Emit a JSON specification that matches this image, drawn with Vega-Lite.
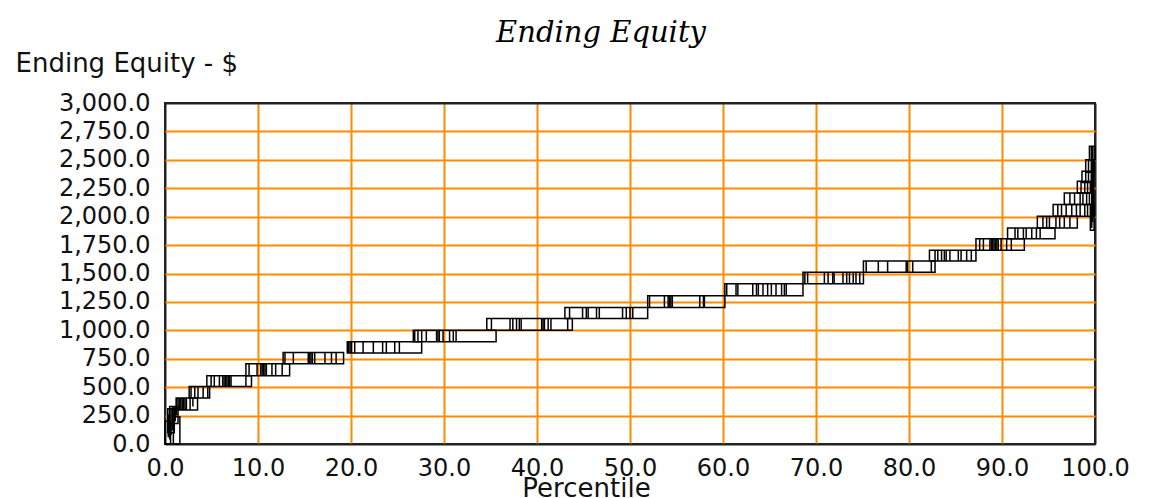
{
  "$schema": "https://vega.github.io/schema/vega-lite/v6.json",
  "width": 930,
  "height": 341,
  "autosize": {"type": "none"},
  "padding": {"left": 165, "top": 103, "right": 62, "bottom": 54},
  "background": "white",
  "title": {
    "text": "Ending Equity",
    "font": "DejaVu Serif",
    "fontStyle": "italic",
    "fontWeight": "normal",
    "fontSize": 29,
    "color": "#000000",
    "anchor": "middle",
    "frame": "group",
    "dx": -29,
    "offset": 2
  },
  "config": {
    "view": {"stroke": "#222222", "strokeWidth": 2},
    "axis": {
      "grid": true,
      "gridColor": {"condition": {"test": "datum.value === 0 || datum.value === 100 || datum.value === 3000", "value": "#222222"}, "value": "#ff8c00"},
      "gridOpacity": 1,
      "gridWidth": 2,
      "ticks": false,
      "domain": false,
      "labelFont": "DejaVu Sans",
      "labelFontSize": 24,
      "labelColor": "#111111",
      "titleFont": "DejaVu Sans",
      "titleFontSize": 26,
      "titleFontWeight": "normal",
      "titleColor": "#111111",
      "labelOverlap": false,
      "labelFlush": false
    }
  },
  "datasets": {
    "boxes": [
      {"x": 0.0, "x2": 0.6, "y": 0, "y2": 200},
      {"x": 0.3, "x2": 1.0, "y": 100, "y2": 310},
      {"x": 0.9, "x2": 1.6, "y": 0, "y2": 240},
      {"x": 0.5, "x2": 1.4, "y": 180, "y2": 330},
      {"x": 1.2, "x2": 3.5, "y": 300, "y2": 405},
      {"x": 2.6, "x2": 4.8, "y": 405, "y2": 505},
      {"x": 4.5, "x2": 9.3, "y": 505, "y2": 600},
      {"x": 8.7, "x2": 13.4, "y": 600, "y2": 705},
      {"x": 12.7, "x2": 19.2, "y": 705, "y2": 805},
      {"x": 19.6, "x2": 27.6, "y": 800, "y2": 900},
      {"x": 26.7, "x2": 35.6, "y": 900, "y2": 1000},
      {"x": 34.6, "x2": 43.8, "y": 1000, "y2": 1105},
      {"x": 43.0, "x2": 51.9, "y": 1105, "y2": 1200},
      {"x": 51.9, "x2": 60.2, "y": 1200, "y2": 1305},
      {"x": 60.2, "x2": 68.6, "y": 1305, "y2": 1410},
      {"x": 68.6, "x2": 75.1, "y": 1410, "y2": 1510},
      {"x": 75.1, "x2": 82.8, "y": 1510, "y2": 1610},
      {"x": 82.2, "x2": 87.2, "y": 1610, "y2": 1705},
      {"x": 87.2, "x2": 92.4, "y": 1705, "y2": 1805},
      {"x": 90.6, "x2": 95.7, "y": 1805, "y2": 1900},
      {"x": 93.8, "x2": 98.1, "y": 1900, "y2": 2003},
      {"x": 95.5, "x2": 99.8, "y": 2003, "y2": 2106},
      {"x": 96.7, "x2": 99.8, "y": 2106, "y2": 2209},
      {"x": 98.1, "x2": 99.8, "y": 2209, "y2": 2311},
      {"x": 98.6, "x2": 99.8, "y": 2300, "y2": 2400},
      {"x": 99.0, "x2": 99.9, "y": 2390, "y2": 2500},
      {"x": 99.4, "x2": 100, "y": 2500, "y2": 2620},
      {"x": 99.5, "x2": 99.9, "y": 1880, "y2": 2106}
    ],
    "ticks": [
      {"x": 0.35, "y": 60, "y2": 260}, {"x": 0.5, "y": 40, "y2": 300}, {"x": 0.65, "y": 80, "y2": 310},
      {"x": 0.8, "y": 120, "y2": 330}, {"x": 0.95, "y": 160, "y2": 330}, {"x": 1.1, "y": 200, "y2": 330},
      {"x": 1.25, "y": 250, "y2": 400}, {"x": 1.4, "y": 300, "y2": 405},
      {"x": 1.55, "y": 300, "y2": 405}, {"x": 1.7, "y": 300, "y2": 405}, {"x": 1.85, "y": 300, "y2": 405},
      {"x": 2.0, "y": 300, "y2": 405}, {"x": 2.15, "y": 300, "y2": 405}, {"x": 2.3, "y": 300, "y2": 405},
      {"x": 2.7, "y": 300, "y2": 405}, {"x": 3.0, "y": 330, "y2": 405},
      {"x": 2.8, "y": 405, "y2": 505}, {"x": 3.2, "y": 405, "y2": 505}, {"x": 3.55, "y": 405, "y2": 505},
      {"x": 4.1, "y": 405, "y2": 505}, {"x": 4.6, "y": 405, "y2": 505},
      {"x": 4.96, "y": 505, "y2": 600}, {"x": 5.3, "y": 505, "y2": 600}, {"x": 5.85, "y": 505, "y2": 600},
      {"x": 6.2, "y": 505, "y2": 600}, {"x": 6.35, "y": 505, "y2": 600}, {"x": 6.5, "y": 505, "y2": 600},
      {"x": 6.65, "y": 505, "y2": 600}, {"x": 6.8, "y": 505, "y2": 600}, {"x": 6.95, "y": 505, "y2": 600},
      {"x": 7.1, "y": 505, "y2": 600}, {"x": 8.7, "y": 505, "y2": 600},
      {"x": 9.04, "y": 600, "y2": 705}, {"x": 9.9, "y": 600, "y2": 705}, {"x": 10.3, "y": 600, "y2": 705},
      {"x": 10.45, "y": 600, "y2": 705}, {"x": 10.6, "y": 600, "y2": 705}, {"x": 10.75, "y": 600, "y2": 705},
      {"x": 10.9, "y": 600, "y2": 705}, {"x": 11.5, "y": 600, "y2": 705}, {"x": 11.9, "y": 600, "y2": 705},
      {"x": 12.6, "y": 600, "y2": 705},
      {"x": 12.9, "y": 705, "y2": 805}, {"x": 13.8, "y": 705, "y2": 805}, {"x": 15.4, "y": 705, "y2": 805},
      {"x": 15.55, "y": 705, "y2": 805}, {"x": 15.7, "y": 705, "y2": 805}, {"x": 15.85, "y": 705, "y2": 805},
      {"x": 16.1, "y": 705, "y2": 805}, {"x": 17.2, "y": 705, "y2": 805}, {"x": 17.9, "y": 705, "y2": 805},
      {"x": 18.4, "y": 705, "y2": 805},
      {"x": 19.75, "y": 800, "y2": 900}, {"x": 19.9, "y": 800, "y2": 900}, {"x": 20.05, "y": 800, "y2": 900},
      {"x": 20.4, "y": 800, "y2": 900}, {"x": 21.3, "y": 800, "y2": 900}, {"x": 22.4, "y": 800, "y2": 900},
      {"x": 23.4, "y": 800, "y2": 900}, {"x": 23.8, "y": 800, "y2": 900}, {"x": 24.7, "y": 800, "y2": 900},
      {"x": 25.2, "y": 800, "y2": 900},
      {"x": 26.85, "y": 900, "y2": 1000}, {"x": 27.2, "y": 900, "y2": 1000}, {"x": 27.6, "y": 900, "y2": 1000},
      {"x": 28.1, "y": 900, "y2": 1000}, {"x": 29.2, "y": 900, "y2": 1000}, {"x": 29.35, "y": 900, "y2": 1000},
      {"x": 29.5, "y": 900, "y2": 1000}, {"x": 29.9, "y": 900, "y2": 1000}, {"x": 30.6, "y": 900, "y2": 1000},
      {"x": 31.0, "y": 900, "y2": 1000}, {"x": 31.3, "y": 900, "y2": 1000},
      {"x": 35.1, "y": 1000, "y2": 1105}, {"x": 37.1, "y": 1000, "y2": 1105}, {"x": 37.4, "y": 1000, "y2": 1105},
      {"x": 37.8, "y": 1000, "y2": 1105}, {"x": 38.1, "y": 1000, "y2": 1105}, {"x": 38.3, "y": 1000, "y2": 1105},
      {"x": 40.5, "y": 1000, "y2": 1105}, {"x": 40.65, "y": 1000, "y2": 1105}, {"x": 40.8, "y": 1000, "y2": 1105},
      {"x": 41.2, "y": 1000, "y2": 1105}, {"x": 41.5, "y": 1000, "y2": 1105}, {"x": 43.3, "y": 1000, "y2": 1105},
      {"x": 43.5, "y": 1105, "y2": 1200}, {"x": 44.9, "y": 1105, "y2": 1200}, {"x": 45.3, "y": 1105, "y2": 1200},
      {"x": 45.5, "y": 1105, "y2": 1200}, {"x": 46.4, "y": 1105, "y2": 1200}, {"x": 46.7, "y": 1105, "y2": 1200},
      {"x": 49.2, "y": 1105, "y2": 1200}, {"x": 49.6, "y": 1105, "y2": 1200}, {"x": 50.0, "y": 1105, "y2": 1200},
      {"x": 50.3, "y": 1105, "y2": 1200},
      {"x": 52.1, "y": 1200, "y2": 1305}, {"x": 53.7, "y": 1200, "y2": 1305}, {"x": 54.1, "y": 1200, "y2": 1305},
      {"x": 54.25, "y": 1200, "y2": 1305}, {"x": 54.4, "y": 1200, "y2": 1305}, {"x": 54.55, "y": 1200, "y2": 1305},
      {"x": 57.5, "y": 1200, "y2": 1305}, {"x": 57.9, "y": 1200, "y2": 1305}, {"x": 58.0, "y": 1200, "y2": 1305},
      {"x": 60.4, "y": 1305, "y2": 1410}, {"x": 61.4, "y": 1305, "y2": 1410}, {"x": 61.6, "y": 1305, "y2": 1410},
      {"x": 63.2, "y": 1305, "y2": 1410}, {"x": 63.6, "y": 1305, "y2": 1410}, {"x": 63.8, "y": 1305, "y2": 1410},
      {"x": 64.3, "y": 1305, "y2": 1410}, {"x": 64.8, "y": 1305, "y2": 1410}, {"x": 65.2, "y": 1305, "y2": 1410},
      {"x": 65.7, "y": 1305, "y2": 1410}, {"x": 66.3, "y": 1305, "y2": 1410}, {"x": 66.6, "y": 1305, "y2": 1410},
      {"x": 66.8, "y": 1305, "y2": 1410},
      {"x": 68.8, "y": 1410, "y2": 1510}, {"x": 69.1, "y": 1410, "y2": 1510}, {"x": 70.9, "y": 1410, "y2": 1510},
      {"x": 71.3, "y": 1410, "y2": 1510}, {"x": 71.8, "y": 1410, "y2": 1510}, {"x": 71.95, "y": 1410, "y2": 1510},
      {"x": 72.9, "y": 1410, "y2": 1510}, {"x": 73.3, "y": 1410, "y2": 1510}, {"x": 73.6, "y": 1410, "y2": 1510},
      {"x": 74.0, "y": 1410, "y2": 1510}, {"x": 74.3, "y": 1410, "y2": 1510}, {"x": 74.7, "y": 1410, "y2": 1510},
      {"x": 75.4, "y": 1510, "y2": 1610}, {"x": 76.7, "y": 1510, "y2": 1610}, {"x": 77.7, "y": 1510, "y2": 1610},
      {"x": 79.7, "y": 1510, "y2": 1610}, {"x": 79.85, "y": 1510, "y2": 1610}, {"x": 80.4, "y": 1510, "y2": 1610},
      {"x": 82.4, "y": 1510, "y2": 1610},
      {"x": 82.8, "y": 1610, "y2": 1705}, {"x": 83.1, "y": 1610, "y2": 1705}, {"x": 83.5, "y": 1610, "y2": 1705},
      {"x": 83.8, "y": 1610, "y2": 1705}, {"x": 84.0, "y": 1610, "y2": 1705}, {"x": 84.4, "y": 1610, "y2": 1705},
      {"x": 85.3, "y": 1610, "y2": 1705}, {"x": 85.6, "y": 1610, "y2": 1705}, {"x": 86.2, "y": 1610, "y2": 1705},
      {"x": 86.7, "y": 1610, "y2": 1705},
      {"x": 87.6, "y": 1705, "y2": 1805}, {"x": 88.0, "y": 1705, "y2": 1805}, {"x": 88.7, "y": 1705, "y2": 1805},
      {"x": 88.85, "y": 1705, "y2": 1805}, {"x": 89.0, "y": 1705, "y2": 1805}, {"x": 89.15, "y": 1705, "y2": 1805},
      {"x": 89.3, "y": 1705, "y2": 1805}, {"x": 89.45, "y": 1705, "y2": 1805}, {"x": 89.6, "y": 1705, "y2": 1805},
      {"x": 89.9, "y": 1705, "y2": 1805}, {"x": 90.5, "y": 1705, "y2": 1805}, {"x": 91.0, "y": 1705, "y2": 1805},
      {"x": 91.4, "y": 1805, "y2": 1900}, {"x": 91.7, "y": 1805, "y2": 1900}, {"x": 92.3, "y": 1805, "y2": 1900},
      {"x": 92.6, "y": 1805, "y2": 1900}, {"x": 93.2, "y": 1805, "y2": 1900}, {"x": 93.7, "y": 1805, "y2": 1900},
      {"x": 94.1, "y": 1805, "y2": 1900},
      {"x": 94.4, "y": 1900, "y2": 2003}, {"x": 94.8, "y": 1900, "y2": 2003}, {"x": 95.1, "y": 1900, "y2": 2003},
      {"x": 95.8, "y": 1900, "y2": 2003}, {"x": 96.2, "y": 1900, "y2": 2003}, {"x": 96.7, "y": 1900, "y2": 2003},
      {"x": 97.3, "y": 1900, "y2": 2003},
      {"x": 96.0, "y": 2003, "y2": 2106}, {"x": 96.4, "y": 2003, "y2": 2106}, {"x": 96.9, "y": 2003, "y2": 2106},
      {"x": 97.5, "y": 2003, "y2": 2106}, {"x": 98.0, "y": 2003, "y2": 2106}, {"x": 98.4, "y": 2003, "y2": 2106},
      {"x": 98.9, "y": 2003, "y2": 2106}, {"x": 99.2, "y": 2003, "y2": 2106},
      {"x": 97.3, "y": 2106, "y2": 2209}, {"x": 97.8, "y": 2106, "y2": 2209}, {"x": 98.4, "y": 2106, "y2": 2209},
      {"x": 98.7, "y": 2106, "y2": 2209}, {"x": 99.1, "y": 2106, "y2": 2209}, {"x": 99.4, "y": 2106, "y2": 2209},
      {"x": 98.5, "y": 2209, "y2": 2311}, {"x": 98.9, "y": 2209, "y2": 2311}, {"x": 99.2, "y": 2209, "y2": 2311},
      {"x": 99.5, "y": 2209, "y2": 2311},
      {"x": 99.0, "y": 2300, "y2": 2400}, {"x": 99.3, "y": 2300, "y2": 2400}, {"x": 99.6, "y": 2300, "y2": 2400},
      {"x": 99.3, "y": 2390, "y2": 2500}, {"x": 99.6, "y": 2390, "y2": 2500},
      {"x": 99.6, "y": 2500, "y2": 2620}, {"x": 99.75, "y": 2500, "y2": 2620},
      {"x": 99.65, "y": 1900, "y2": 2620}, {"x": 99.75, "y": 1950, "y2": 2620}, {"x": 99.85, "y": 2000, "y2": 2500}
    ]
  },
  "encoding": {
    "x": {
      "field": "x",
      "type": "quantitative",
      "scale": {"domain": [0, 100], "nice": false, "zero": false},
      "axis": {
        "values": [0, 10, 20, 30, 40, 50, 60, 70, 80, 90, 100],
        "format": ".1f",
        "labelPadding": 12,
        "title": "Percentile",
        "titleX": 421,
        "titleY": 52,
        "titleAlign": "center",
        "titleBaseline": "alphabetic"
      }
    },
    "y": {
      "field": "y",
      "type": "quantitative",
      "scale": {"domain": [0, 3000], "nice": false, "zero": false},
      "axis": {
        "values": [0, 250, 500, 750, 1000, 1250, 1500, 1750, 2000, 2250, 2500, 2750, 3000],
        "format": ",.1f",
        "labelPadding": 15,
        "title": "Ending Equity - $",
        "titleAngle": 0,
        "titleAlign": "left",
        "titleBaseline": "alphabetic",
        "titleX": -150,
        "titleY": -32
      }
    }
  },
  "layer": [
    {
      "data": {"name": "boxes"},
      "mark": {"type": "rect", "filled": false, "stroke": "#000000", "strokeWidth": 1.5},
      "encoding": {
        "x2": {"field": "x2"},
        "y2": {"field": "y2"}
      }
    },
    {
      "data": {"name": "ticks"},
      "mark": {"type": "rule", "color": "#000000", "strokeWidth": 1.5},
      "encoding": {
        "y2": {"field": "y2"}
      }
    }
  ]
}
